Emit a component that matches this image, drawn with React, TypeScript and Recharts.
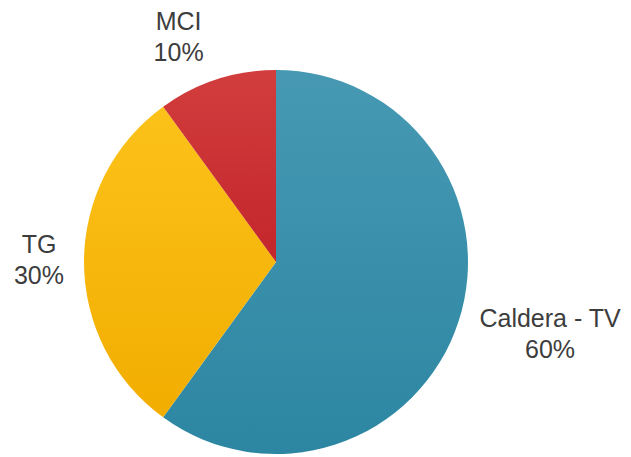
import React from "react";
import { Cell, Pie, PieChart } from "recharts";

// segment names + shares (percent), clockwise from 12 o'clock
const names = ["Caldera - TV", "TG", "MCI"];
const shares = [60, 30, 10];
const colors = [
  ["#4799b3", "#2c86a2"],
  ["#fcc21a", "#f2ad00"],
  ["#d23d3d", "#c3262b"],
];

// label block tweak per segment (px), sideways from the radial point
const labelNudge = [
  [42, -6],
  [7, -5],
  [-22, 4],
];

const data = names.map((name, i) => ({ name, value: shares[i] }));

const RAD = Math.PI / 180;

function renderLabel(props: any) {
  const { cx, cy, midAngle, outerRadius, index, name, value } = props;
  const r = outerRadius + 52;
  const x = cx + r * Math.cos(-midAngle * RAD) + labelNudge[index][0];
  const y = cy + r * Math.sin(-midAngle * RAD) + labelNudge[index][1];
  return (
    <text
      x={x}
      y={y}
      textAnchor="middle"
      fill="#3d3d3d"
      fontSize={25}
      fontFamily="Arial, 'Liberation Sans', sans-serif"
    >
      <tspan x={x} dy={-4}>{name}</tspan>
      <tspan x={x} dy={31}>{value}%</tspan>
    </text>
  );
}

export default function App() {
  return (
    <div style={{ position: "absolute", left: 0, top: 0, width: 631, height: 457, background: "#fff" }}>
      <PieChart width={631} height={457} margin={{ top: 0, right: 0, bottom: 0, left: 0 }}>
        <defs>
          {colors.map((c, i) => (
            <linearGradient key={i} id={`g${i}`} x1="0" y1="0" x2="0" y2="1">
              <stop offset="0%" stopColor={c[0]} />
              <stop offset="100%" stopColor={c[1]} />
            </linearGradient>
          ))}
        </defs>
        <Pie
          data={data}
          dataKey="value"
          nameKey="name"
          cx={276}
          cy={262}
          outerRadius={192}
          startAngle={90}
          endAngle={-270}
          stroke="none"
          labelLine={false}
          label={renderLabel}
          isAnimationActive={false}
        >
          {data.map((d, i) => (
            <Cell key={d.name} fill={`url(#g${i})`} />
          ))}
        </Pie>
      </PieChart>
    </div>
  );
}
